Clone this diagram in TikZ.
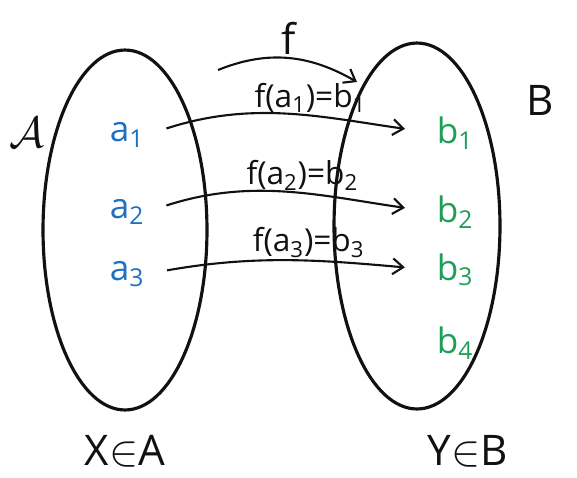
\documentclass[tikz,border=0pt]{standalone}
\usepackage{fontspec}
\setmainfont{Open Sans}
\usetikzlibrary{arrows.meta}
\definecolor{elem-blue}{HTML}{1F6FC2}
\definecolor{elem-green}{HTML}{1E9E57}
\definecolor{ink}{HTML}{111111}

\begin{document}
\begin{tikzpicture}[x=0.02cm, y=-0.02cm,
    every node/.style={font=\fontsize{20}{24}\selectfont, inner sep=1pt},
    setline/.style={draw=ink, line width=1.8pt},
    map/.style={draw=ink, line width=1.2pt, -{Straight Barb[length=6pt, width=9pt, line width=1.2pt]}},
    maplabel/.style={font=\fontsize{18}{21}\selectfont, text=ink, inner sep=0pt},
    elemA/.style={text=elem-blue},
    elemB/.style={text=elem-green},
    setname/.style={font=\fontsize{24}{28}\selectfont, text=ink}]
    \useasboundingbox (0,0) rectangle (577,477);
    % the two sets
    \draw[setline] (125,230) ellipse [x radius=1.64cm, y radius=3.6cm];
    \draw[setline] (417,226) ellipse [x radius=1.66cm, y radius=3.66cm];
    \node[setname] (nameA) at (27,133) {$\mathcal{A}$};
    \node[setname] (nameB) at (540,100) {B};
    % elements
    \node[elemA] (a1) at (127,135) {a\textsubscript{1}};
    \node[elemA] (a2) at (127,212) {a\textsubscript{2}};
    \node[elemA] (a3) at (127,274) {a\textsubscript{3}};
    \node[elemB] (b1) at (455,133) {b\textsubscript{1}};
    \node[elemB] (b2) at (455,212) {b\textsubscript{2}};
    \node[elemB] (b3) at (455,270) {b\textsubscript{3}};
    \node[elemB] (b4) at (455,343) {b\textsubscript{4}};
    % the map f
    \node[setname] (fname) at (289,38) {f};
    \coordinate (fstart) at (218,70);
    \coordinate (fend) at (357,82);
    \draw[map] (fstart) to[out=22, in=150] (fend);
    \draw[map, shorten <=12pt, shorten >=17pt] (a1.east) to[out=18, in=172]
      node[maplabel, above=1.5pt, pos=.58] {f(a\textsubscript{1})=b\textsubscript{1}} (b1.west);
    \draw[map, shorten <=12pt, shorten >=17pt] (a2.east) to[out=18, in=172]
      node[maplabel, above=1.5pt, pos=.55] {f(a\textsubscript{2})=b\textsubscript{2}} (b2.west);
    \draw[map, shorten <=12pt, shorten >=17pt] (a3.east) to[out=10, in=175]
      node[maplabel, above=1.5pt, pos=.57] {f(a\textsubscript{3})=b\textsubscript{3}} (b3.west);
    % below the sets
    \node[setname] (xinA) at (125,451) {X$\in$A};
    \node[setname] (yinB) at (468,451) {Y$\in$B};
\end{tikzpicture}
\end{document}
